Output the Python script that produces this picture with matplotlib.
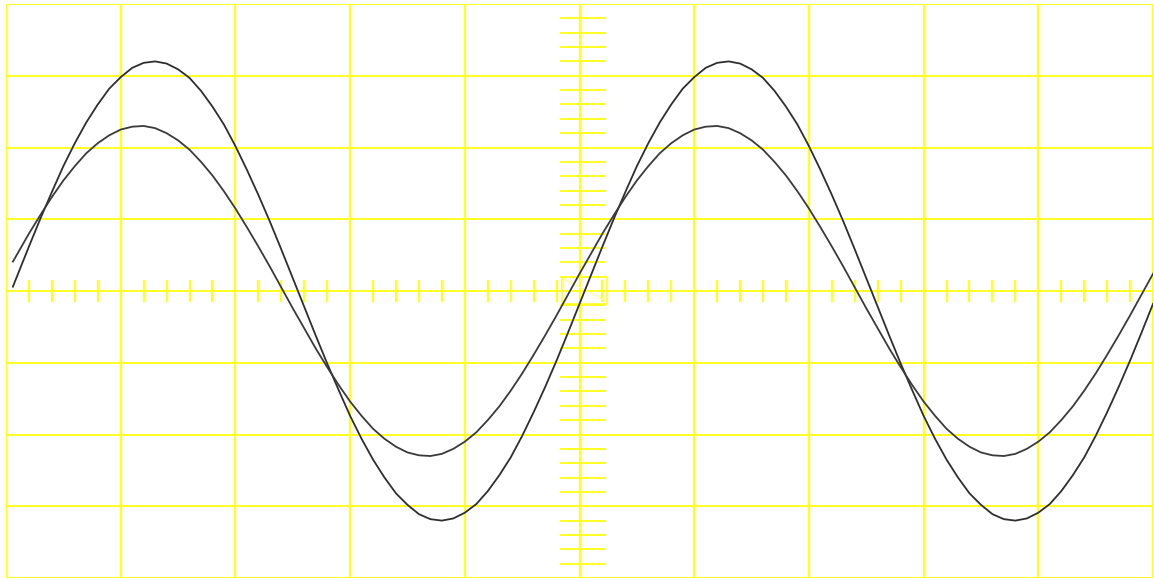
import matplotlib
matplotlib.use("Agg")
import matplotlib.pyplot as plt

# screen position in divisions (10 across, 8 high, centre at 5 / 0)
x_div = [0.06] + [round(0.1 * i, 1) for i in range(1, 101)]

# channel 1 (larger trace), divisions
trace_a = [
    0.06,
    0.22, 0.62, 1.01, 1.38, 1.74, 2.06, 2.35, 2.60, 2.82, 2.98,
    3.11, 3.18, 3.20, 3.17, 3.09, 2.97, 2.79, 2.57, 2.32, 2.02,
    1.69, 1.34, 0.97, 0.58, 0.18, -0.22, -0.62, -1.01, -1.38, -1.74,
    -2.06, -2.35, -2.60, -2.82, -2.98, -3.11, -3.18, -3.20, -3.17, -3.09,
    -2.97, -2.79, -2.57, -2.32, -2.02, -1.69, -1.34, -0.97, -0.58, -0.18,
    0.22, 0.62, 1.01, 1.38, 1.74, 2.06, 2.35, 2.60, 2.82, 2.98,
    3.11, 3.18, 3.20, 3.17, 3.09, 2.97, 2.79, 2.57, 2.32, 2.02,
    1.69, 1.34, 0.97, 0.58, 0.18, -0.22, -0.62, -1.01, -1.38, -1.74,
    -2.06, -2.35, -2.60, -2.82, -2.98, -3.11, -3.18, -3.20, -3.17, -3.09,
    -2.97, -2.79, -2.57, -2.32, -2.02, -1.69, -1.34, -0.97, -0.58, -0.18,
]

# channel 2 (smaller trace), divisions
trace_b = [
    0.41,
    0.52, 0.80, 1.06, 1.31, 1.54, 1.74, 1.92, 2.06, 2.17, 2.25,
    2.29, 2.30, 2.27, 2.20, 2.10, 1.97, 1.80, 1.61, 1.39, 1.15,
    0.89, 0.62, 0.34, 0.05, -0.24, -0.52, -0.80, -1.06, -1.31, -1.54,
    -1.74, -1.92, -2.06, -2.17, -2.25, -2.29, -2.30, -2.27, -2.20, -2.10,
    -1.97, -1.80, -1.61, -1.39, -1.15, -0.89, -0.62, -0.34, -0.05, 0.24,
    0.52, 0.80, 1.06, 1.31, 1.54, 1.74, 1.92, 2.06, 2.17, 2.25,
    2.29, 2.30, 2.27, 2.20, 2.10, 1.97, 1.80, 1.61, 1.39, 1.15,
    0.89, 0.62, 0.34, 0.05, -0.24, -0.52, -0.80, -1.06, -1.31, -1.54,
    -1.74, -1.92, -2.06, -2.17, -2.25, -2.29, -2.30, -2.27, -2.20, -2.10,
    -1.97, -1.80, -1.61, -1.39, -1.15, -0.89, -0.62, -0.34, -0.05, 0.24,
]

# =========================
# FIGURE
# =========================
fig = plt.figure(figsize=(11.54, 5.79), dpi=100)
fig.patch.set_facecolor("white")

ax = fig.add_axes([6 / 1154, 1 / 579, 1147 / 1154, 574 / 579])
ax.set_xlim(0, 10)
ax.set_ylim(-4, 4)

grid_col = "#ffff20"

# graticule
for gx in range(0, 11):
    ax.axvline(gx, color=grid_col, lw=1.6, zorder=1)
for gy in range(-4, 5):
    ax.axhline(gy, color=grid_col, lw=1.4, zorder=1)

# sub-division marks on the centre lines
sub_x = [v / 5 for v in range(1, 50) if v % 5 != 0]
ax.vlines(sub_x, -0.155, 0.155, color=grid_col, lw=1.6, zorder=1)

sub_y = [v / 5 for v in range(-19, 20) if v % 5 != 0]
ax.hlines(sub_y, 4.83, 5.23, color=grid_col, lw=1.4, zorder=1)

# little box at the centre
ax.plot([4.85, 5.24, 5.24, 4.85, 4.85], [0.19, 0.19, -0.18, -0.18, 0.19],
        color=grid_col, lw=1.2, zorder=1)
ax.plot([4.86, 5.23], [0.17, -0.14], color="#ffff90", lw=0.8, zorder=1)

# =========================
# TRACES
# =========================
ax.plot(x_div, trace_a, color="#2e2e2e", lw=1.3, zorder=3)
ax.plot(x_div, trace_b, color="#3a3a3a", lw=1.3, zorder=3)

ax.set_xticks([])
ax.set_yticks([])
for s in ax.spines.values():
    s.set_visible(False)

fig.savefig("out.png", dpi=100, facecolor="white")
